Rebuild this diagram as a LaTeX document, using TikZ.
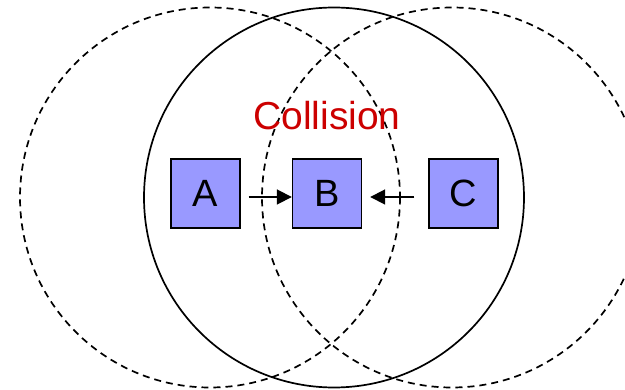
\documentclass[tikz,border=0pt]{standalone}
\usepackage{fontspec}
\setmainfont{Liberation Sans}
\usetikzlibrary{arrows.meta,calc}
\definecolor{boxblue}{RGB}{153,153,255}
\definecolor{colred}{RGB}{204,0,0}
\begin{document}
\begin{tikzpicture}[x=1pt,y=-1pt,
  boxnode/.style={draw=black,line width=1.4pt,fill=boxblue,minimum size=69pt,inner sep=0pt,font=\fontsize{38}{40}\selectfont},
  solidrange/.style={line width=1.7pt},
  dashrange/.style={line width=1.7pt,dash pattern=on 7pt off 5pt},
  arr/.style={line width=1.8pt,-{Triangle[length=15pt,width=15pt]}}]
\useasboundingbox (0,0) rectangle (625,390);
\clip (0,0) rectangle (625,390);
\draw[solidrange] (334,197.5) circle[radius=190];
\draw[dashrange] (210,197.5) circle[radius=190];
\draw[dashrange] (452,197.5) circle[radius=190];
\node[boxnode] (A) at (205.5,193.5) {A};
\node[boxnode] (B) at (327,193.5) {B};
\node[boxnode] (C) at (463.5,193.5) {C};
\node[text=colred,font=\fontsize{39}{41}\selectfont,anchor=base] (col) at (327,130) {Collision};
\draw[arr] ($(A.east)+(8,3.5)$) -- ($(B.west)+(0,3.5)$);
\draw[arr] ($(C.west)+(-14,3.5)$) -- ($(B.east)+(8,3.5)$);
\end{tikzpicture}
\end{document}
